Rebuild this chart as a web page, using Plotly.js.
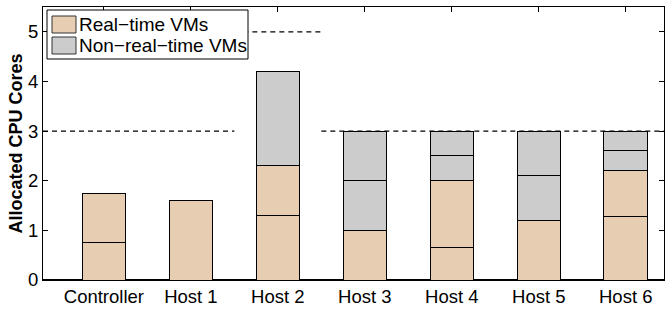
<!DOCTYPE html>
<html>
<head>
<meta charset="utf-8">
<script src="https://cdn.plot.ly/plotly-3.0.1.min.js"></script>
<style>html,body{margin:0;padding:0;background:#fff;}#chart{width:666px;height:310px;}</style>
</head>
<body>
<div id="chart"></div>
<script>
// ---- data ----
var categories = ["Controller", "Host 1", "Host 2", "Host 3", "Host 4", "Host 5", "Host 6"];
var realTimeVM1 = [0.75, 1.6, 1.3, 1.0, 0.65, 1.2, 1.27];
var realTimeVM2 = [1.0, null, 1.0, null, 1.35, null, 0.93];
var nonRealTimeVM1 = [null, null, 1.9, 1.0, 0.5, 0.9, 0.4];
var nonRealTimeVM2 = [null, null, null, 1.0, 0.5, 0.9, 0.4];
var capacityGroups = [[0, 1], [2], [3, 4, 5, 6]];
var capacityValues = [3, 5, 3];
var yTicks = [0, 1, 2, 3, 4, 5];
var legendLabels = ["Real\u2212time VMs", "Non\u2212real\u2212time VMs"];

var rtColor = "#E7CDB2";
var nrtColor = "#CCCCCC";
var FONT = "Liberation Sans, Arial, Helvetica, sans-serif";

var W = 666, H = 310;
var M = {l: 43, r: 2, t: 7, b: 30};
var xRange = [-0.7, 6.44];
function px(x) { return (x - M.l) / (W - M.l - M.r); }
function py(y) { return (H - M.b - y) / (H - M.t - M.b); }

var idx = categories.map(function (c, i) { return i; });
function seg(vals, color) {
  return {
    type: "bar", x: idx, y: vals, width: 0.5,
    marker: {color: color, line: {color: "#000", width: 1}},
    showlegend: false, hoverinfo: "skip"
  };
}
var traces = [
  seg(realTimeVM1, rtColor),
  seg(realTimeVM2, rtColor),
  seg(nonRealTimeVM1, nrtColor),
  seg(nonRealTimeVM2, nrtColor)
];

var shapes = [];
capacityGroups.forEach(function (g, k) {
  var x0 = g[0] === 0 ? xRange[0] : g[0] - 0.5;
  var last = g[g.length - 1];
  var x1 = last === categories.length - 1 ? xRange[1] : last + 0.5;
  shapes.push({type: "line", xref: "x", yref: "y", x0: x0, x1: x1,
    y0: capacityValues[k], y1: capacityValues[k], layer: "above",
    line: {color: "#000", width: 1.2, dash: "5px,4px"}});
});
shapes.push({type: "rect", xref: "paper", yref: "paper",
  x0: px(47), x1: px(248), y0: py(59), y1: py(10), layer: "above",
  fillcolor: "#fff", line: {color: "#000", width: 1}});
shapes.push({type: "rect", xref: "paper", yref: "paper",
  x0: px(52), x1: px(76), y0: py(33), y1: py(16), layer: "above",
  fillcolor: rtColor, line: {color: "#333", width: 1}});
shapes.push({type: "rect", xref: "paper", yref: "paper",
  x0: px(52), x1: px(76), y0: py(54), y1: py(37), layer: "above",
  fillcolor: nrtColor, line: {color: "#333", width: 1}});

var annotations = [
  {xref: "paper", yref: "paper", x: px(77), y: py(24.5), xanchor: "left", yanchor: "middle",
   text: legendLabels[0], showarrow: false, font: {family: FONT, size: 19, color: "#000"}},
  {xref: "paper", yref: "paper", x: px(77), y: py(45.5), xanchor: "left", yanchor: "middle",
   text: legendLabels[1], showarrow: false, font: {family: FONT, size: 19, color: "#000"}},
  {xref: "paper", yref: "paper", x: px(15), y: 0.5, xanchor: "center", yanchor: "middle",
   textangle: -90, text: "<b>Allocated CPU Cores</b>", showarrow: false,
   font: {family: FONT, size: 18, color: "#000"}}
];

var layout = {
  width: W, height: H,
  margin: M,
  paper_bgcolor: "#fff", plot_bgcolor: "#fff",
  barmode: "stack",
  showlegend: false,
  font: {family: FONT, size: 18, color: "#000"},
  xaxis: {
    range: xRange, tickmode: "array", tickvals: idx, ticktext: categories,
    ticks: "inside", ticklen: 5, tickcolor: "#000", mirror: "ticks",
    showline: true, linecolor: "#000", linewidth: 1, showgrid: false, zeroline: false,
    layer: "below traces", tickfont: {family: FONT, size: 18.5, color: "#000"}
  },
  yaxis: {
    range: [0, 5.5], tickmode: "array", tickvals: yTicks,
    ticks: "inside", ticklen: 5, tickcolor: "#000", mirror: "ticks",
    showline: true, linecolor: "#000", linewidth: 1, showgrid: false,
    zeroline: true, zerolinecolor: "#000", zerolinewidth: 2,
    tickfont: {family: FONT, size: 18.5, color: "#000"}
  },
  shapes: shapes,
  annotations: annotations
};

Plotly.newPlot("chart", traces, layout, {staticPlot: true, displayModeBar: false});
</script>
</body>
</html>
